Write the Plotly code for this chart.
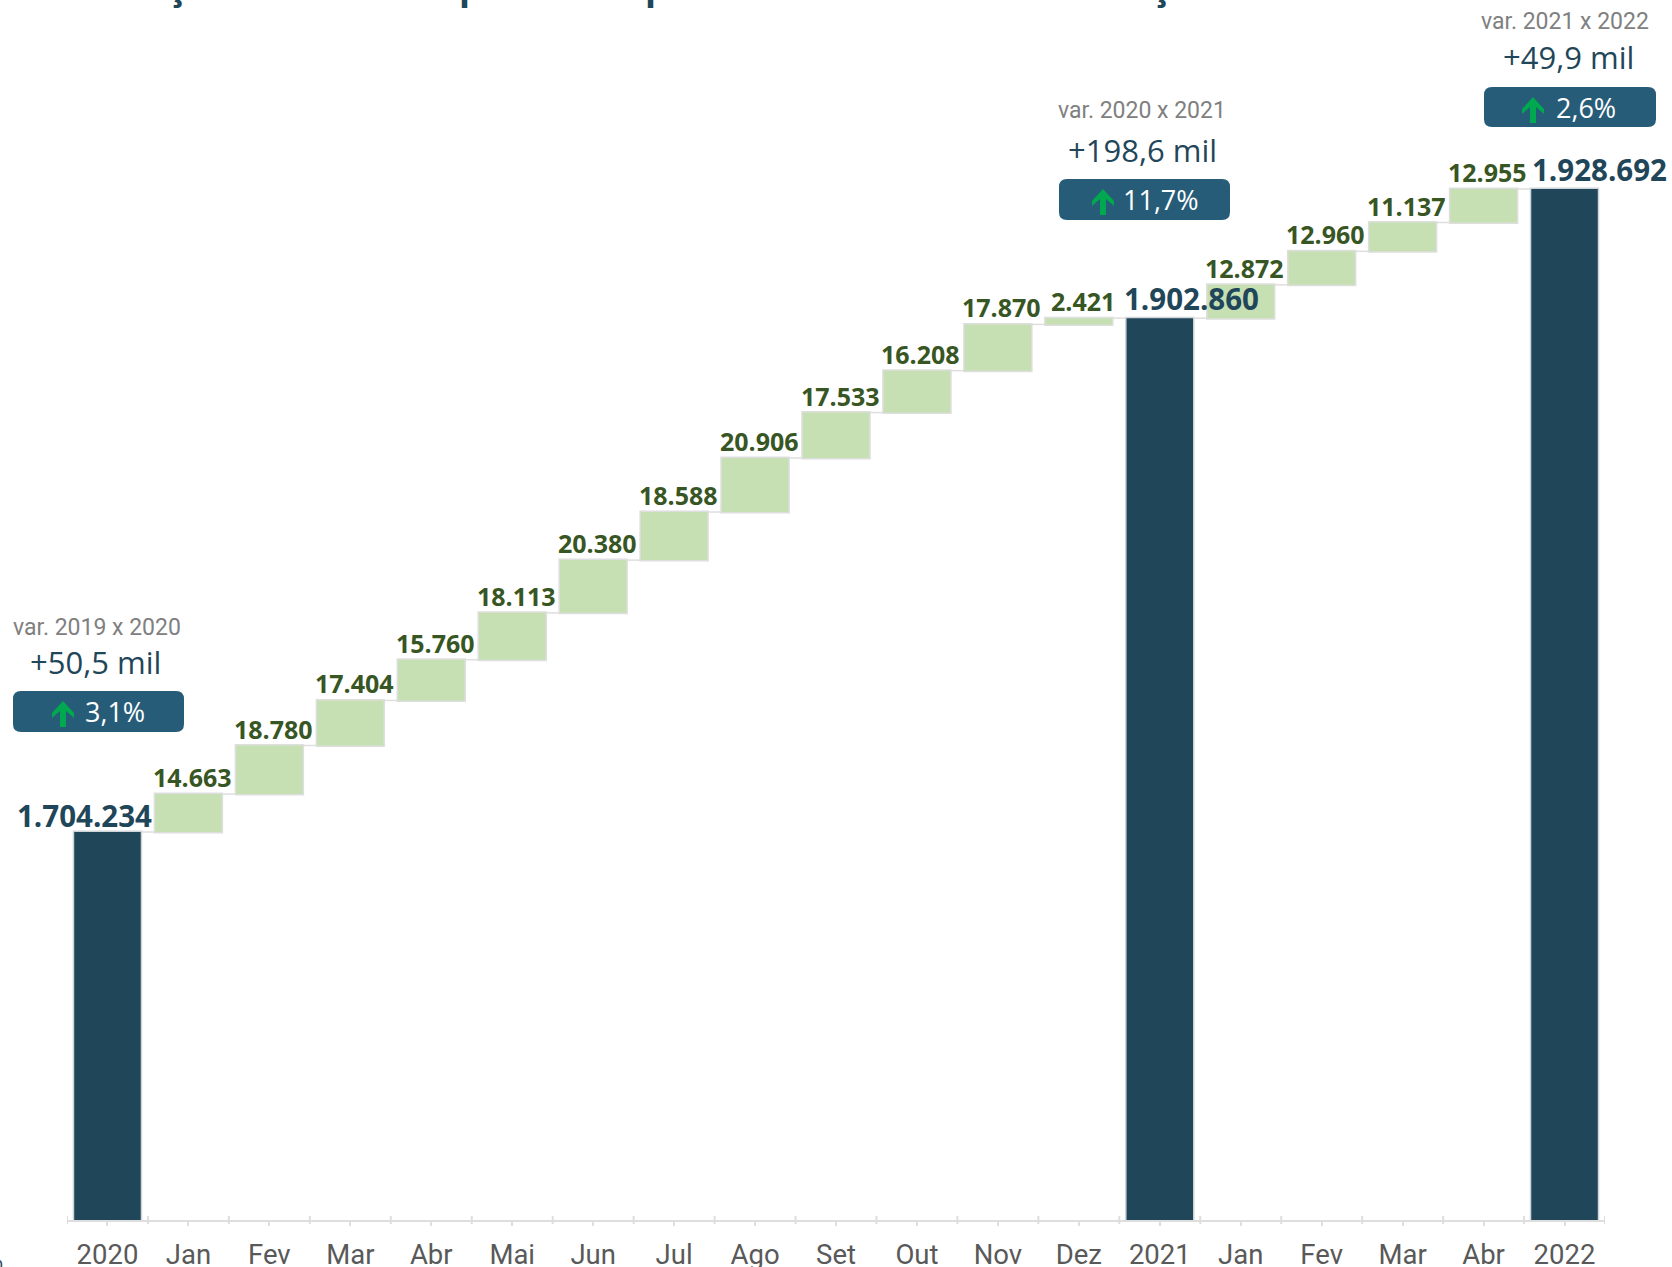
import plotly.graph_objects as go
import numpy as np

# ---- data ----
tick_labels = ["2020", "Jan", "Fev", "Mar", "Abr", "Mai", "Jun", "Jul", "Ago", "Set", "Out", "Nov", "Dez",
               "2021", "Jan", "Fev", "Mar", "Abr", "2022"]
measures = ["absolute"] + ["relative"] * 12 + ["total"] + ["relative"] * 4 + ["total"]
start_2020 = 1704234
months_2021 = [14663, 18780, 17404, 15760, 18113, 20380, 18588, 20906, 17533, 16208, 17870, 2421]
months_2022 = [12872, 12960, 11137, 12955]
total_labels = {0: "1.704.234", 13: "1.902.860", 18: "1.928.692"}
callout_period = ["var. 2019 x 2020", "var. 2020 x 2021", "var. 2021 x 2022"]
callout_delta = ["+50,5 mil", "+198,6 mil", "+49,9 mil"]
callout_pct = ["3,1%", "11,7%", "2,6%"]

# ---- layout constants (pixels in the page) ----
W, H = 1672, 1267
L, R, B = 67, 1605, 1220
Y_MIN, Y_MAX = 1554272, 2025830
NAVY, GREEN_TXT, BAR_GREEN, BADGE, ARROW = "#1F4659", "#375623", "#C6E0B4", "#265C78", "#00A84F"
EDGE = "#DEDEDE"

def px(x):
    return (x - L) / (R - L)
def py(y):
    return (B - y) / B

x = list(range(len(tick_labels)))
y_vals = [start_2020] + months_2021 + [0] + months_2022 + [0]

# running tops of the bars, used only to anchor labels
tops, run = [], 0
for m, v in zip(measures, y_vals):
    if m == "absolute":
        run = v
    elif m == "relative":
        run += v
    tops.append(run)

fig = go.Figure(go.Waterfall(
    x=x, y=y_vals, measure=measures,
    increasing=dict(marker=dict(color=BAR_GREEN, line=dict(color=EDGE, width=1.5))),
    decreasing=dict(marker=dict(color=BAR_GREEN, line=dict(color=EDGE, width=1.5))),
    totals=dict(marker=dict(color=NAVY, line=dict(color="#CFD4D8", width=1.5))),
    connector=dict(line=dict(color=EDGE, width=1.5), mode="between"),
    hoverinfo="skip", cliponaxis=True,
))

ann, shapes = [], []
total_shift = {0: -23, 13: 32, 18: 35}
total_yshift = {0: -6, 13: -3, 18: -3}
for i, (t, v) in enumerate(zip(tops, y_vals)):
    is_total = i in total_labels
    text = total_labels[i] if is_total else f"{v:,}".replace(",", ".")
    ann.append(dict(x=i, y=t, xref="x", yref="y", text=text, showarrow=False,
                    xanchor="center", yanchor="bottom",
                    xshift=total_shift[i] if is_total else 4, yshift=total_yshift[i] if is_total else -2,
                    font=dict(family="Open Sans", size=29.5 if is_total else 25, color=NAVY if is_total else GREEN_TXT,
                              weight="bold")))

# callouts, positioned in page pixels
groups = [
    dict(cx=97, dx=95, var_y=627, delta_y=662, bx0=13, bx1=184, by0=691, by1=732, ax=63, tx=115),
    dict(cx=1142, dx=1142, var_y=111, delta_y=150, bx0=1059, bx1=1230, by0=179, by1=220, ax=1103, tx=1161),
    dict(cx=1565, dx=1568, var_y=22, delta_y=57, bx0=1484, bx1=1656, by0=87, by1=127, ax=1533, tx=1586),
]
for g, a, b, c in zip(groups, callout_period, callout_delta, callout_pct):
    ann.append(dict(x=px(g["cx"]), y=py(g["var_y"]), xref="paper", yref="paper", text=a, showarrow=False,
                    xanchor="center", yanchor="middle", font=dict(family="Roboto", size=23, color="#808080")))
    ann.append(dict(x=px(g["dx"]), y=py(g["delta_y"]), xref="paper", yref="paper", text=b, showarrow=False,
                    xanchor="center", yanchor="middle", font=dict(family="Open Sans", size=31, color=NAVY)))
    ann.append(dict(x=px(g["tx"]), y=py((g["by0"] + g["by1"]) / 2), xref="paper", yref="paper", text=c, showarrow=False,
                    xanchor="center", yanchor="middle", font=dict(family="Open Sans", size=27, color="white")))
    # rounded badge
    r = 8
    x0, x1, y0, y1 = g["bx0"], g["bx1"], g["by0"], g["by1"]
    P = lambda a_, b_: f"{px(a_):.5f},{py(b_):.5f}"
    path = (f"M{P(x0+r,y0)} L{P(x1-r,y0)} Q{P(x1,y0)} {P(x1,y0+r)} L{P(x1,y1-r)} Q{P(x1,y1)} {P(x1-r,y1)} "
            f"L{P(x0+r,y1)} Q{P(x0,y1)} {P(x0,y1-r)} L{P(x0,y0+r)} Q{P(x0,y0)} {P(x0+r,y0)} Z")
    shapes.append(dict(type="path", xref="paper", yref="paper", path=path, fillcolor=BADGE, line=dict(width=0), layer="below"))
    # arrow icon
    ax, ay0 = g["ax"], y0 + 10
    pts = [(ax, ay0), (ax + 11, ay0 + 12), (ax + 11, ay0 + 17), (ax + 3, ay0 + 10), (ax + 3, ay0 + 26),
           (ax - 3, ay0 + 26), (ax - 3, ay0 + 10), (ax - 11, ay0 + 17), (ax - 11, ay0 + 12)]
    arrow = "M" + " L".join(P(*p) for p in pts) + " Z"
    shapes.append(dict(type="path", xref="paper", yref="paper", path=arrow, fillcolor=ARROW, line=dict(width=0), layer="above"))

# title above the crop: only descenders remain visible in the reference
for gx, ch in [(176, "ç"), (471, "p"), (656, "p"), (1160, "ç")]:
    ann.append(dict(x=px(gx), y=py(12), xref="paper", yref="paper", text=ch, showarrow=False, xanchor="center",
                    yanchor="bottom", font=dict(family="Open Sans", size=36, color=NAVY, weight="bold")))

# fragment of a percent sign cut by the lower-left corner
ann.append(dict(x=px(5), y=py(1261), xref="paper", yref="paper", text="%", showarrow=False, xanchor="right",
                yanchor="middle", font=dict(family="Open Sans", size=22, color=NAVY)))

# tall ticks at the slot boundaries
for b in np.arange(-0.5, 19, 1):
    shapes.append(dict(type="line", xref="x", yref="paper", x0=b, x1=b, y0=py(1216), y1=py(1224),
                       line=dict(color=EDGE, width=2), layer="below"))

fig.update_layout(
    width=W, height=H, margin=dict(l=L, r=W - R, t=0, b=H - B, autoexpand=False),
    plot_bgcolor="white", paper_bgcolor="white", showlegend=False, waterfallgap=0.16,
    annotations=ann, shapes=shapes,
    xaxis=dict(range=[-0.5, 18.5], tickmode="array", tickvals=x, ticktext=tick_labels, showgrid=False, zeroline=False,
               showline=True, linecolor=EDGE, linewidth=2, ticks="outside", ticklen=4, tickcolor=EDGE, tickwidth=1.5,
               ticklabelstandoff=5,
               tickfont=dict(family="Roboto", size=27.5, color="#595959"), tickangle=0, fixedrange=True),
    yaxis=dict(range=[Y_MIN, Y_MAX], visible=False, showgrid=False, zeroline=False, fixedrange=True),
)
fig.write_html("out.html", config=dict(displayModeBar=False),
               post_script="document.body.style.margin='0';document.body.style.overflow='hidden';")
